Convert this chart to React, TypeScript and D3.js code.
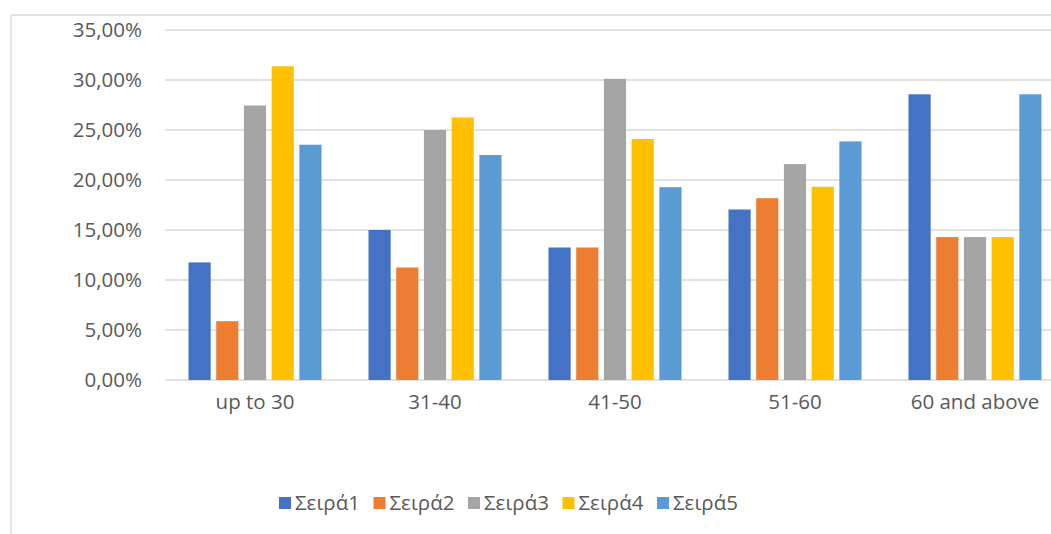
import React from "react";
import * as d3 from "d3";

const categories = ["up to 30", "31-40", "41-50", "51-60", "60 and above"];
const seriesNames = ["Σειρά1", "Σειρά2", "Σειρά3", "Σειρά4", "Σειρά5"];
const seriesColors = ["#4472C4", "#ED7D31", "#A5A5A5", "#FFC000", "#5B9BD5"];
const seira1 = [11.76, 15.0, 13.25, 17.05, 28.57];
const seira2 = [5.88, 11.25, 13.25, 18.18, 14.29];
const seira3 = [27.45, 25.0, 30.12, 21.59, 14.29];
const seira4 = [31.37, 26.25, 24.1, 19.32, 14.29];
const seira5 = [23.53, 22.5, 19.28, 23.86, 28.57];
const yTicks = [0, 5, 10, 15, 20, 25, 30, 35];

const seriesValues = [seira1, seira2, seira3, seira4, seira5];

export default function App() {
  const W = 1051;
  const H = 534;
  const plotLeft = 165;
  const plotRight = 1065;
  const y = d3.scaleLinear().domain([0, 35]).range([380, 30]);
  const x0 = d3
    .scaleBand<string>()
    .domain(categories)
    .range([plotLeft, plotRight])
    .paddingInner(0.261)
    .paddingOuter(0.1306);
  const x1 = d3
    .scaleBand<string>()
    .domain(seriesNames)
    .range([0, x0.bandwidth()])
    .paddingInner(0.2);
  const fmt = (v: number) => v.toFixed(2).replace(".", ",") + "%";
  const font = "'Open Sans', 'Noto Sans', sans-serif";
  const textColor = "#595959";
  const legendX = d3.scaleLinear().domain([0, 4]).range([279, 657]);

  return (
    <svg
      width={W}
      height={H}
      style={{ position: "absolute", left: 0, top: 0, background: "#fff" }}
      fontFamily={font}
    >
      <rect x={0} y={0} width={W} height={H} fill="#fff" />
      {/* chart border */}
      <line x1={11} x2={W} y1={15} y2={15} stroke="#d9d9d9" strokeWidth={1.3} />
      <line x1={11} x2={11} y1={15} y2={H} stroke="#d9d9d9" strokeWidth={1.3} />
      {/* gridlines */}
      {yTicks.map((t) => (
        <g key={t}>
          <line
            x1={plotLeft}
            x2={plotRight}
            y1={y(t)}
            y2={y(t)}
            stroke="#d9d9d9"
            strokeWidth={1.3}
          />
          <text
            x={142}
            y={y(t)}
            dy="0.35em"
            textAnchor="end"
            fontSize={20.5}
            fill={textColor}
          >
            {fmt(t)}
          </text>
        </g>
      ))}
      {/* bars */}
      {categories.map((c, ci) => (
        <g key={c} transform={`translate(${x0(c)},0)`}>
          {seriesNames.map((s, si) => {
            const v = seriesValues[si][ci];
            return (
              <rect
                key={s}
                x={x1(s)}
                y={y(v)}
                width={x1.bandwidth()}
                height={y(0) - y(v)}
                fill={seriesColors[si]}
              />
            );
          })}
          <text
            x={x0.bandwidth() / 2}
            y={409}
            textAnchor="middle"
            fontSize={20.5}
            fill={textColor}
          >
            {c}
          </text>
        </g>
      ))}
      {/* legend */}
      {seriesNames.map((s, i) => (
        <g key={s} transform={`translate(${legendX(i)},497)`}>
          <rect x={0} y={0} width={12} height={12} fill={seriesColors[i]} />
          <text x={16} y={6} dy="0.35em" fontSize={20.5} fill={textColor}>
            {s}
          </text>
        </g>
      ))}
    </svg>
  );
}
